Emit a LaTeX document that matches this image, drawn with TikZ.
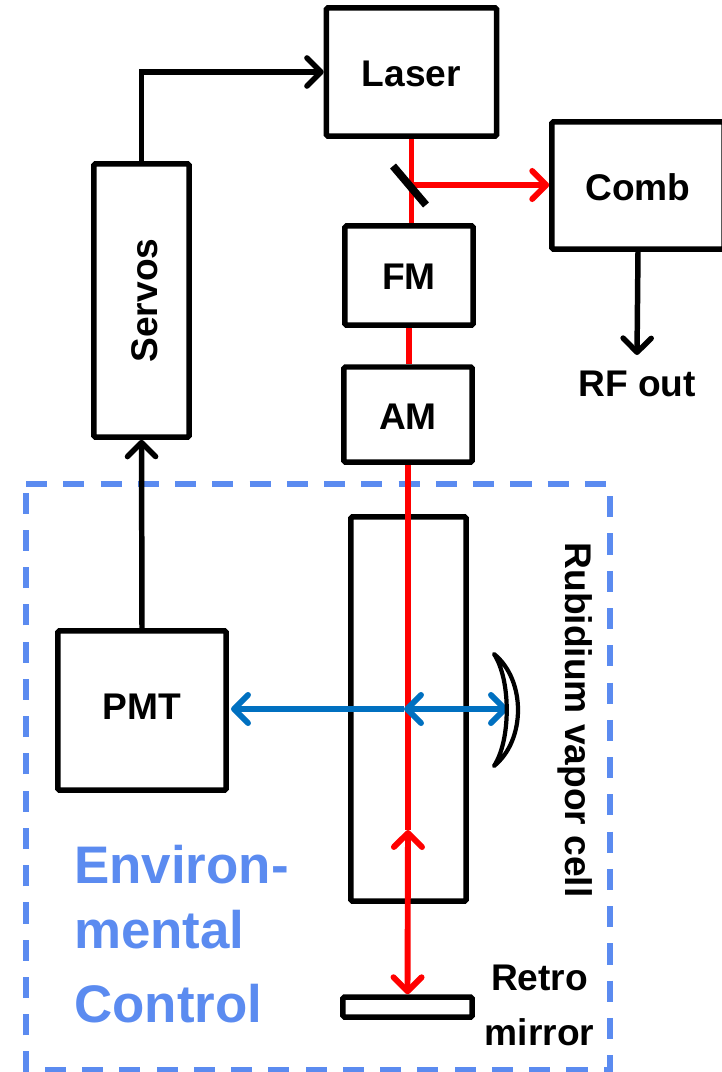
\documentclass[tikz,border=0pt]{standalone}
\usepackage{fontspec}
\setmainfont{Liberation Sans}
\usetikzlibrary{arrows.meta}
\definecolor{beamred}{RGB}{255,0,0}
\definecolor{beamblue}{RGB}{0,112,192}
\definecolor{envblue}{RGB}{91,139,240}
\newcommand{\boxtext}[2]{\raisebox{#1}[0pt][0pt]{#2}}
\tikzset{
  barb/.tip={Straight Barb[length=10pt,width=20pt,round]},
  box/.style={draw=black,line width=3.9pt,rounded corners=1pt,fill=white,font=\fontsize{26.4}{30}\selectfont\bfseries},
  label/.style={font=\fontsize{26.4}{30}\selectfont\bfseries,inner sep=0pt},
  envlabel/.style={font=\fontsize{37.6}{42}\selectfont\bfseries,text=envblue,inner sep=0pt,anchor=base west},
  wire/.style={line width=3.9pt,-barb},
  redbeam/.style={line width=4.2pt,beamred},
  bluebeam/.style={line width=4.2pt,beamblue},
}
\begin{document}
\begin{tikzpicture}[x=0.025cm,y=-0.025cm]
                    \useasboundingbox (0,0) rectangle (722,1072);
                    \draw[envblue,line width=4.2pt,dash pattern=on 15pt off 11.5pt] (26,484) -- (610,484) -- (610,1070) -- (26,1070) -- cycle;
                    \coordinate (split) at (411,185);
                    \coordinate (rfend) at (637,355);
                    \coordinate (backtip) at (408,830);
                    \coordinate (centre) at (404,709);
                    \coordinate (lensfront) at (508,709);
                    \coordinate (pmtfront) at (231,709);
                    \node[box,minimum width=4.25cm,minimum height=3.2cm] (laser) at (411.5,72) {\boxtext{-10.2pt}{Laser}};
                    \node[box,minimum width=4.3cm,minimum height=3.175cm] (comb) at (638,185.5) {\boxtext{-10.5pt}{Comb}};
                    \node[box,minimum width=2.375cm,minimum height=6.825cm] (servos) at (141.5,300.5) {\rotatebox{90}{\boxtext{-11.2pt}{Servos}}};
                    \node[box,minimum width=3.2cm,minimum height=2.475cm] (fm) at (409,275.5) {\boxtext{-10pt}{FM}};
                    \node[box,minimum width=3.2cm,minimum height=2.375cm] (am) at (408,414.5) {\boxtext{-10.5pt}{AM}};
                    \node[box,minimum width=2.875cm,minimum height=9.6cm] (cell) at (408.5,709) {};
                    \node[box,minimum width=4.2cm,minimum height=3.975cm] (pmt) at (142,710.5) {\boxtext{-6.2pt}{PMT}};
                    \node[box,minimum width=3.225cm,minimum height=0.5cm] (retro) at (407.5,1007) {};
                    \node[label] (rfout) at (637,384) {RF out};
                    \node[label,rotate=-90] (celllabel) at (575,720) {Rubidium vapor cell};
                    \node[label,align=center] (mirrorlabel) at (539.5,1005) {Retro\\[9pt]mirror};
                    \node[envlabel] (envone) at (74,883) {Environ-};
                    \node[envlabel] (envtwo) at (74,948) {mental};
                    \node[envlabel] (envthree) at (74,1022) {Control};
                    \draw[wire] (servos.north) |- (laser.west);
                    \draw[wire] (pmt.north) -- (servos.south);
                    \draw[wire] (comb.south) -- (rfend);
                    \draw[redbeam] (laser.south) -- (laser.south |- fm.north);
                    \draw[redbeam] (fm.south) -- (fm.south |- am.north);
                    \draw[redbeam] (am.south) -- (backtip);
                    \draw[redbeam,barb-barb] (backtip) -- (retro.north);
                    \draw[redbeam,-barb] (split) -- (comb.west |- split);
                    \draw[black,line width=5.5pt] (393,166) -- (426,205);
                    \draw[bluebeam,-barb] (centre) -- (pmtfront);
                    \draw[bluebeam,barb-barb] (centre) -- (lensfront);
                    \draw[line width=3pt,line join=round] (494,654) .. controls (526,680) and (526,740) .. (494,766) .. controls (511,740) and (511,680) .. (494,654) -- cycle;
                \end{tikzpicture}
\end{document}
